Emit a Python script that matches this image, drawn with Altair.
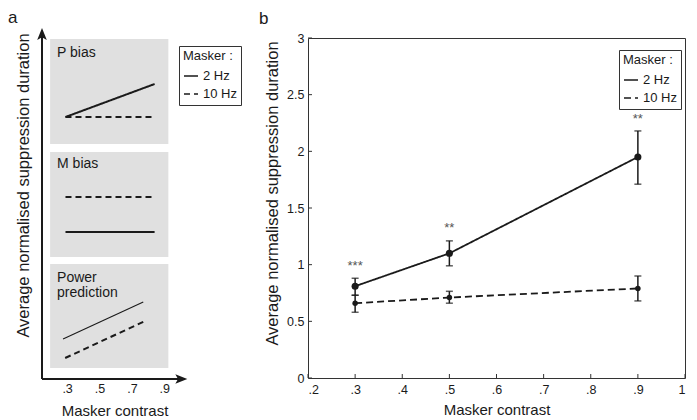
import altair as alt
import pandas as pd

FONT = "Liberation Sans"
INK = "#1a1a1a"

# ---------------- panel b : measured data ----------------
contrast = [0.3, 0.5, 0.9]
hz2_mean = [0.81, 1.10, 1.95]
hz2_lo = [0.73, 0.99, 1.71]
hz2_hi = [0.88, 1.21, 2.18]
hz10_mean = [0.66, 0.71, 0.79]
hz10_lo = [0.58, 0.66, 0.68]
hz10_hi = [0.73, 0.765, 0.90]
star_text = ["***", "**", "**"]
star_y = [0.95, 1.29, 2.25]
b_xticks = [0.2, 0.3, 0.4, 0.5, 0.6, 0.7, 0.8, 0.9, 1.0]
b_yticks = [0, 0.5, 1, 1.5, 2, 2.5, 3]
maskers = ["2 Hz", "10 Hz"]

# ---------------- panel a : schematic predictions ----------------
a_xticks = [0.3, 0.5, 0.7, 0.9]
box_name = ["P bias", "M bias", "Power prediction"]
box_label = ["P bias", "M bias", "Power\nprediction"]
box_left = [0.195, 0.195, 0.195]
box_right = [0.925, 0.925, 0.925]
box_bottom = [2.35, 1.22, 0.11]
box_top = [3.40, 2.27, 1.15]
label_x = [0.238, 0.238, 0.238]
label_y = [3.33, 2.22, 1.08]

seg_panel = ["P bias"] * 4 + ["M bias"] * 4 + ["Power prediction"] * 4
seg_masker = ["2 Hz", "2 Hz", "10 Hz", "10 Hz"] * 3
seg_x = [0.29, 0.84, 0.29, 0.84,
         0.29, 0.84, 0.29, 0.84,
         0.275, 0.77, 0.288, 0.782]
seg_y = [2.62, 2.95, 2.62, 2.62,
         1.47, 1.47, 1.82, 1.82,
         0.40, 0.77, 0.21, 0.58]

a_axis_x0 = [0.145, 0.145]
a_axis_x1 = [1.0, 0.145]
a_axis_y0 = [0.0, 0.0]
a_axis_y1 = [0.0, 3.42]
arrow_right_xy = (1.005, 0.0)
arrow_up_xy = (0.145, 3.45)

# ---------------- tables ----------------
b_df = pd.DataFrame({
    "masker": ["2 Hz"] * 3 + ["10 Hz"] * 3,
    "contrast": contrast + contrast,
    "mean": hz2_mean + hz10_mean,
    "lo": hz2_lo + hz10_lo,
    "hi": hz2_hi + hz10_hi,
})
star_df = pd.DataFrame({"contrast": contrast, "y": star_y, "t": star_text})
bxt_df = pd.DataFrame({"v": b_xticks})
byt_df = pd.DataFrame({"v": b_yticks})

box_df = pd.DataFrame({"name": box_name, "label": box_label,
                       "l": box_left, "r": box_right,
                       "b": box_bottom, "t": box_top,
                       "lx": label_x, "ly": label_y})
seg_df = pd.DataFrame({"panel": seg_panel, "masker": seg_masker,
                       "x": seg_x, "y": seg_y})
axis_df = pd.DataFrame({"x": a_axis_x0, "x2": a_axis_x1,
                        "y": a_axis_y0, "y2": a_axis_y1})
arr_r_df = pd.DataFrame({"x": [arrow_right_xy[0]], "y": [arrow_right_xy[1]]})
arr_u_df = pd.DataFrame({"x": [arrow_up_xy[0]], "y": [arrow_up_xy[1]]})

# ---------------- shared styling ----------------
W_A, H_A = 145, 341
W_B, H_B = 377, 340

YTITLE = "Average normalised suppression duration"
XTITLE = "Masker contrast"


def legend(lx, ly):
    return alt.Legend(
        orient="none", legendX=lx, legendY=ly, title="Masker :",
        titleFont=FONT, titleFontSize=13, titleFontWeight="normal",
        titleColor=INK, titleAnchor="start", titlePadding=5,
        labelFont=FONT, labelFontSize=13, labelColor=INK, labelOffset=4,
        labelExpr="datum.label == '2 Hz' ? '\u2007' + datum.label : datum.label",
        symbolType="stroke", symbolSize=196, symbolStrokeWidth=1.6,
        symbolStrokeColor=INK, rowPadding=3,
        strokeColor="#333", fillColor="white", padding=4,
    )


def title(txt, dx, off):
    return alt.TitleParams(txt, anchor="start", frame="group", dx=dx,
                           offset=off, fontSize=17, fontWeight="normal",
                           font=FONT, color=INK, baseline="alphabetic")


# ================= panel a =================
sx_a = alt.Scale(domain=[0.145, 1.04], nice=False, zero=False)
sy_a = alt.Scale(domain=[0, 3.41], nice=False, zero=False)
dash_a = alt.Scale(domain=maskers, range=[[1, 0], [6, 4]])

ax_a_x = alt.Axis(values=a_xticks,
                  labelExpr="substring(format(datum.value, '.1f'), 1)",
                  domain=False, ticks=False, grid=False, labelPadding=3,
                  labelFontSize=12.5, labelFont=FONT, labelColor=INK,
                  title=XTITLE, titleFont=FONT, titleFontSize=15,
                  titleFontWeight="normal", titleColor=INK, titlePadding=9)
ax_a_y = alt.Axis(labels=False, domain=False, ticks=False, grid=False,
                  title=YTITLE, titleFont=FONT, titleFontSize=16.5,
                  titleFontWeight="normal", titleColor=INK, titlePadding=11,
                  titleY=147)


def XA(f):
    return alt.X(f, type="quantitative", scale=sx_a, axis=ax_a_x)


def YA(f):
    return alt.Y(f, type="quantitative", scale=sy_a, axis=ax_a_y)


a_boxes = alt.Chart(box_df).mark_rect(color="#e0e0e0").encode(
    x=XA("l"), x2="r:Q", y=YA("b"), y2="t:Q")

a_labels = alt.Chart(box_df).mark_text(
    align="left", baseline="top", lineBreak="\n", fontSize=14,
    lineHeight=15, font=FONT, color=INK).encode(
    x=XA("lx"), y=YA("ly"), text="label:N")

a_lines = alt.Chart(seg_df).transform_filter(
    "!(datum.panel == 'Power prediction' && datum.masker == '2 Hz')"
).mark_line(strokeWidth=2, color=INK).encode(
    x=XA("x"), y=YA("y"), detail="panel:N",
    strokeDash=alt.StrokeDash("masker:N", scale=dash_a, legend=legend(137, 8)))

a_thin = alt.Chart(seg_df).transform_filter(
    "datum.panel == 'Power prediction' && datum.masker == '2 Hz'"
).mark_line(strokeWidth=1.1, color=INK).encode(x=XA("x"), y=YA("y"))

a_axes = alt.Chart(axis_df).mark_rule(strokeWidth=2, color=INK).encode(
    x=XA("x"), x2="x2:Q", y=YA("y"), y2="y2:Q")

a_arr_r = alt.Chart(arr_r_df).mark_point(
    shape="M-1,-0.8L1,0L-1,0.8L-0.55,0Z", size=144, filled=True,
    opacity=1, color=INK, strokeWidth=0).encode(x=XA("x"), y=YA("y"))

a_arr_u = alt.Chart(arr_u_df).mark_point(
    shape="M-0.8,1L0,-1L0.8,1L0,0.55Z", size=144, filled=True,
    opacity=1, color=INK, strokeWidth=0).encode(x=XA("x"), y=YA("y"))

panel_a = alt.layer(a_boxes, a_labels, a_lines, a_thin, a_axes,
                    a_arr_r, a_arr_u).properties(
    width=W_A, height=H_A, title=title("a", -34, -11.5),
    view=alt.ViewBackground(strokeOpacity=0))

# ================= panel b =================
sx_b = alt.Scale(domain=[0.2, 1.0], nice=False, zero=False)
sy_b = alt.Scale(domain=[0, 3], nice=False, zero=False)
dash_b = alt.Scale(domain=maskers, range=[[1, 0], [7, 4]])

ax_b_x = alt.Axis(values=b_xticks,
                  labelExpr="datum.value >= 1 ? '1' : substring(format(datum.value, '.1f'), 1)",
                  domain=False, ticks=False, grid=False, labelPadding=5,
                  labelFontSize=12.5, labelFont=FONT, labelColor=INK,
                  title=XTITLE, titleFont=FONT, titleFontSize=15,
                  titleFontWeight="normal", titleColor=INK, titlePadding=7)
ax_b_y = alt.Axis(values=b_yticks, format="~g",
                  domain=False, ticks=False, grid=False, labelPadding=4,
                  labelFontSize=12.5, labelFont=FONT, labelColor=INK,
                  title=YTITLE, titleFont=FONT, titleFontSize=16.5,
                  titleFontWeight="normal", titleColor=INK, titlePadding=6,
                  titleY=155)


def XB(f):
    return alt.X(f, type="quantitative", scale=sx_b, axis=ax_b_x)


def YB(f):
    return alt.Y(f, type="quantitative", scale=sy_b, axis=ax_b_y)


b_xt = alt.Chart(bxt_df).mark_rule(color="#333", strokeWidth=1).encode(
    x=XB("v"), y=alt.value(H_B), y2=alt.value(H_B - 4))

b_yt = alt.Chart(byt_df).mark_rule(color="#333", strokeWidth=1).encode(
    y=YB("v"), x=alt.value(0), x2=alt.value(4))

b_lines = alt.Chart(b_df).mark_line(strokeWidth=1.8, color=INK).encode(
    x=XB("contrast"), y=YB("mean"),
    strokeDash=alt.StrokeDash("masker:N", scale=dash_b, legend=legend(311, 12)))

b_err = alt.Chart(b_df).mark_rule(strokeWidth=1.5, color=INK).encode(
    x=XB("contrast"), y=YB("lo"), y2="hi:Q")

b_cap_lo = alt.Chart(b_df).mark_tick(orient="horizontal", size=7,
                                     thickness=1.5, color=INK).encode(
    x=XB("contrast"), y=YB("lo"))

b_cap_hi = alt.Chart(b_df).mark_tick(orient="horizontal", size=7,
                                     thickness=1.5, color=INK).encode(
    x=XB("contrast"), y=YB("hi"))

b_pts2 = alt.Chart(b_df).transform_filter("datum.masker == '2 Hz'").mark_point(
    filled=True, opacity=1, size=50, color=INK, strokeWidth=0).encode(
    x=XB("contrast"), y=YB("mean"))

b_pts10 = alt.Chart(b_df).transform_filter("datum.masker == '10 Hz'").mark_point(
    filled=True, opacity=1, size=30, color=INK, strokeWidth=0).encode(
    x=XB("contrast"), y=YB("mean"))

b_stars = alt.Chart(star_df).mark_text(
    fontSize=13, font=FONT, color="#555", baseline="alphabetic",
    align="center").encode(x=XB("contrast"), y=YB("y"), text="t:N")

panel_b = alt.layer(b_xt, b_yt, b_lines, b_err, b_cap_lo, b_cap_hi,
                    b_pts2, b_pts10, b_stars).properties(
    width=W_B, height=H_B, title=title("b", -49, -8.5))

chart = alt.hconcat(panel_a, panel_b, spacing=16).resolve_scale(
    strokeDash="independent").resolve_legend(
    strokeDash="independent").properties(padding=0).configure(
    font=FONT).configure_view(stroke="#333", strokeWidth=1)

chart.save("out.html", embed_options={"renderer": "svg", "actions": False})
